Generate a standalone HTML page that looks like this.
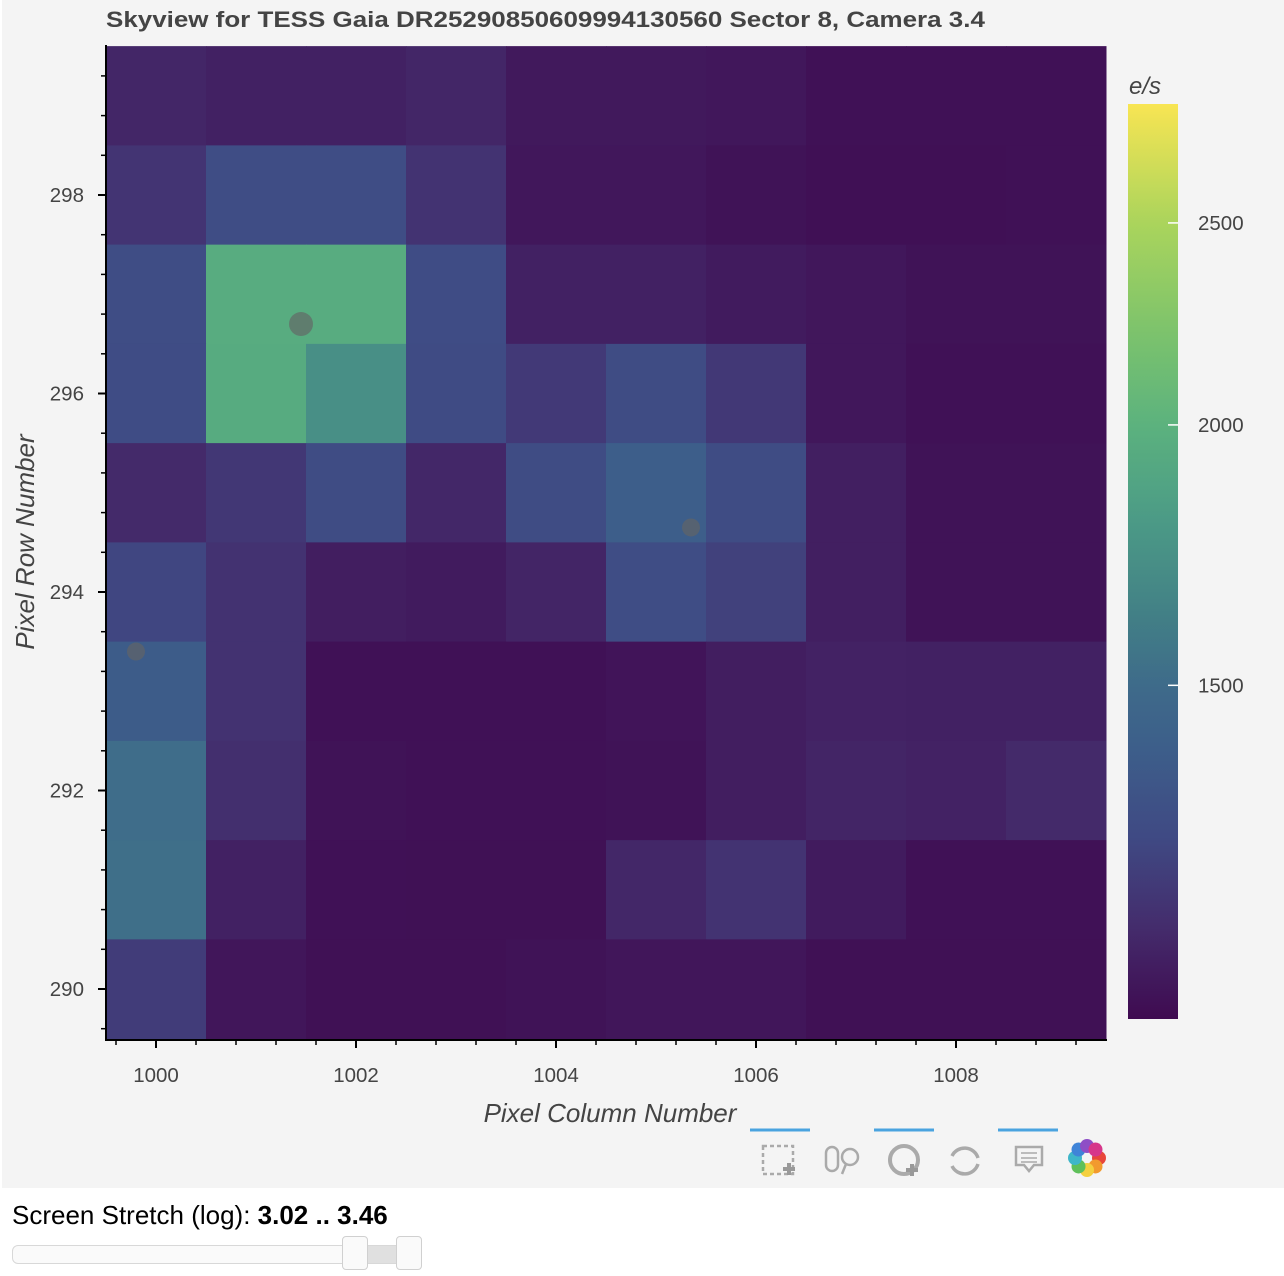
<!DOCTYPE html>
<html><head><meta charset="utf-8">
<style>
body{margin:0;width:1284px;height:1276px;background:#fff;font-family:"Liberation Sans",sans-serif;position:relative;overflow:hidden}
#panel{position:absolute;left:2px;top:0;width:1282px;height:1188px;background:#f4f4f4}
#title{position:absolute;left:106px;top:7px;font-size:22px;font-weight:bold;color:#444;transform-origin:0 0;transform:scaleX(1.18);white-space:nowrap}
#stretch{position:absolute;left:12px;top:1200px;font-size:26px;color:#000}
#track{position:absolute;left:12px;top:1245px;width:408px;height:17px;border:1px solid #d8d8d8;border-radius:6px;background:#fafafa}
#range{position:absolute;left:355px;top:1246px;width:55px;height:17px;background:#e0e0e0}
.handle{position:absolute;top:1236px;width:24px;height:32px;border:1px solid #d0d0d0;border-radius:4px;background:#fafafa}
</style></head><body>
<div id="panel"></div>
<div id="title">Skyview for TESS Gaia DR25290850609994130560 Sector 8, Camera 3.4</div>
<svg id="chart" width="1284" height="1190" style="position:absolute;left:0;top:0"></svg>
<div id="stretch">Screen Stretch (log): <b>3.02 .. 3.46</b></div>
<div id="track"></div>
<div id="range"></div>
<div class="handle" style="left:342px"></div>
<div class="handle" style="left:396px"></div>
<script>
const columns=[1000,1001,1002,1003,1004,1005,1006,1007,1008,1009];
const rows=[299,298,297,296,295,294,293,292,291,290];
const fluxValues=[
[1126,1110,1110,1126,1085,1085,1080,1060,1060,1060],
[1180,1290,1290,1175,1080,1080,1065,1055,1055,1060],
[1290,1950,1950,1285,1110,1110,1090,1080,1065,1065],
[1285,1940,1720,1275,1200,1280,1195,1080,1060,1060],
[1140,1190,1280,1130,1280,1400,1280,1105,1065,1065],
[1255,1170,1100,1090,1125,1290,1230,1105,1065,1065],
[1385,1170,1060,1060,1060,1070,1100,1115,1110,1110],
[1510,1160,1065,1060,1060,1065,1100,1125,1115,1140],
[1520,1110,1060,1058,1058,1130,1175,1090,1060,1060],
[1210,1075,1058,1058,1065,1075,1075,1058,1058,1058]];
const starCols=[1001.45,1005.35,999.8];
const starRows=[296.7,294.65,293.4];
const starSizes=[12,9,9];
const xTicks=[1000,1002,1004,1006,1008];
const yTicks=[290,292,294,296,298];
const cbTicks=[1500,2000,2500];
const logLo=3.016, logHi=3.455;

const NS='http://www.w3.org/2000/svg';
const svg=document.getElementById('chart');
function mk(t,a,p){const e=document.createElementNS(NS,t);for(const k in a)e.setAttribute(k,a[k]);(p||svg).appendChild(e);return e;}
const X=c=>156+(c-1000)*100;
const Y=r=>989-(r-290)*99.25;
const stops=[[0,'#3f0a50'],[0.1,'#442c6c'],[0.2,'#3f4a84'],[0.3,'#3d5f8a'],[0.36,'#3e6a8a'],[0.45,'#438286'],[0.55,'#4c9c86'],[0.65,'#5cb27e'],[0.75,'#7cc36c'],[0.87,'#aad45c'],[1,'#f8e553']];
function hx(h){return [1,3,5].map(i=>parseInt(h.substr(i,2),16));}
function color(t){t=Math.max(0,Math.min(1,t));for(let i=1;i<stops.length;i++){if(t<=stops[i][0]){const a=stops[i-1],b=stops[i];const f=(t-a[0])/(b[0]-a[0]);const ca=hx(a[1]),cb=hx(b[1]);return 'rgb('+ca.map((v,j)=>Math.round(v+(cb[j]-v)*f)).join(',')+')';}}return stops[stops.length-1][1];}
const tOf=v=>(Math.log10(v)-logLo)/(logHi-logLo);

rows.forEach((r,i)=>columns.forEach((c,j)=>{
 const e=mk('rect',{x:X(c-0.5),y:Y(r+0.5),width:100.5,height:99.75,fill:color(tOf(fluxValues[i][j]))});
 
 
}));
starCols.forEach((c,i)=>{
 const e=mk('circle',{cx:X(c),cy:Y(starRows[i]),r:starSizes[i],fill:'rgba(100,100,100,0.65)'});
 
 
});
const ax=mk('line',{x1:106,y1:1040,x2:1107,y2:1040,stroke:'#000','stroke-width':2});


const ay=mk('line',{x1:106,y1:45,x2:106,y2:1041,stroke:'#000','stroke-width':2});


for(let k=0;k<=25;k++){const c=999.6+k*0.4;if(c>1009.5)break;const maj=xTicks.some(t=>Math.abs(t-c)<1e-6);mk('line',{x1:X(c),x2:X(c),y1:1040,y2:1040+(maj?8:5),stroke:'#000','stroke-width':maj?2:1.5});}
for(let k=0;k<=25;k++){const r=289.6+k*0.4;if(r>299.5)break;const maj=yTicks.some(t=>Math.abs(t-r)<1e-6);mk('line',{y1:Y(r),y2:Y(r),x1:106,x2:106-(maj?8:5),stroke:'#000','stroke-width':maj?2:1.5});}
xTicks.forEach(t=>{const e=mk('text',{x:X(t),y:1082,'text-anchor':'middle','font-size':20.5,fill:'#444'});e.textContent=t;});
yTicks.forEach(t=>{const e=mk('text',{x:84,y:Y(t)+7,'text-anchor':'end','font-size':20.5,fill:'#444'});e.textContent=t;});
let e=mk('text',{x:610,y:1122,'text-anchor':'middle','font-size':26,'font-style':'italic',fill:'#444'});e.textContent='Pixel Column Number';

e=mk('text',{x:34,y:542,'text-anchor':'middle','font-size':26,'font-style':'italic',fill:'#444',transform:'rotate(-90 34 542)'});e.textContent='Pixel Row Number';

const defs=mk('defs',{});const g=mk('linearGradient',{id:'cbg',x1:0,y1:1,x2:0,y2:0},defs);
for(let k=0;k<=50;k++){mk('stop',{offset:k/50,'stop-color':color(k/50)},g);}
const cbTop=104,cbBot=1019;
e=mk('rect',{x:1128,y:cbTop,width:50,height:cbBot-cbTop,fill:'url(#cbg)'});

cbTicks.forEach(t=>{const y=cbBot-tOf(t)*(cbBot-cbTop);mk('line',{x1:1168,x2:1178,y1:y,y2:y,stroke:'#fff','stroke-width':1.5});const l=mk('text',{x:1198,y:y+7,'font-size':20.5,fill:'#444'});l.textContent=t;});
e=mk('text',{x:1129,y:94,'font-size':24,'font-style':'italic',fill:'#444'});e.textContent='e/s';

[[750,810],[874,934],[998,1058]].forEach(p=>mk('line',{x1:p[0],x2:p[1],y1:1130,y2:1130,stroke:'#4aa3df','stroke-width':3}));
const tb=mk('g',{stroke:'#aaa',fill:'none','stroke-width':2.5});

mk('rect',{x:763,y:1146,width:30,height:28,'stroke-dasharray':'4 3'},tb);
mk('path',{d:'M789 1163v12M783 1169h12',stroke:'#999','stroke-width':4},tb);
mk('rect',{x:826,y:1147,width:12,height:24,rx:6},tb);
mk('circle',{cx:850,cy:1157,r:8},tb);mk('line',{x1:846,y1:1164,x2:842,y2:1174},tb);
mk('circle',{cx:904,cy:1160,r:14,'stroke-width':4},tb);mk('path',{d:'M912 1164v12M906 1170h12',stroke:'#999','stroke-width':4},tb);
mk('path',{d:'M952 1156a14 14 0 0 1 26 2M978 1164a14 14 0 0 1 -26 2','stroke-width':3.5},tb);
mk('path',{d:'M1016 1147h26v18h-8l-5 6l-5 -6h-8z'},tb);mk('path',{d:'M1021 1153h16M1021 1158h16M1021 1162h16','stroke-width':1.5},tb);
const cols=['#e8463b','#f29a2e','#f4d03f','#5fc05a','#3eb6c9','#3f84d8','#8e4ec6','#d6368a'];
cols.forEach((c,i)=>{const a=i*Math.PI/4;mk('circle',{cx:1087+12*Math.cos(a),cy:1158+12*Math.sin(a),r:7,fill:c,stroke:'none'},svg);});
</script>
</body></html>
